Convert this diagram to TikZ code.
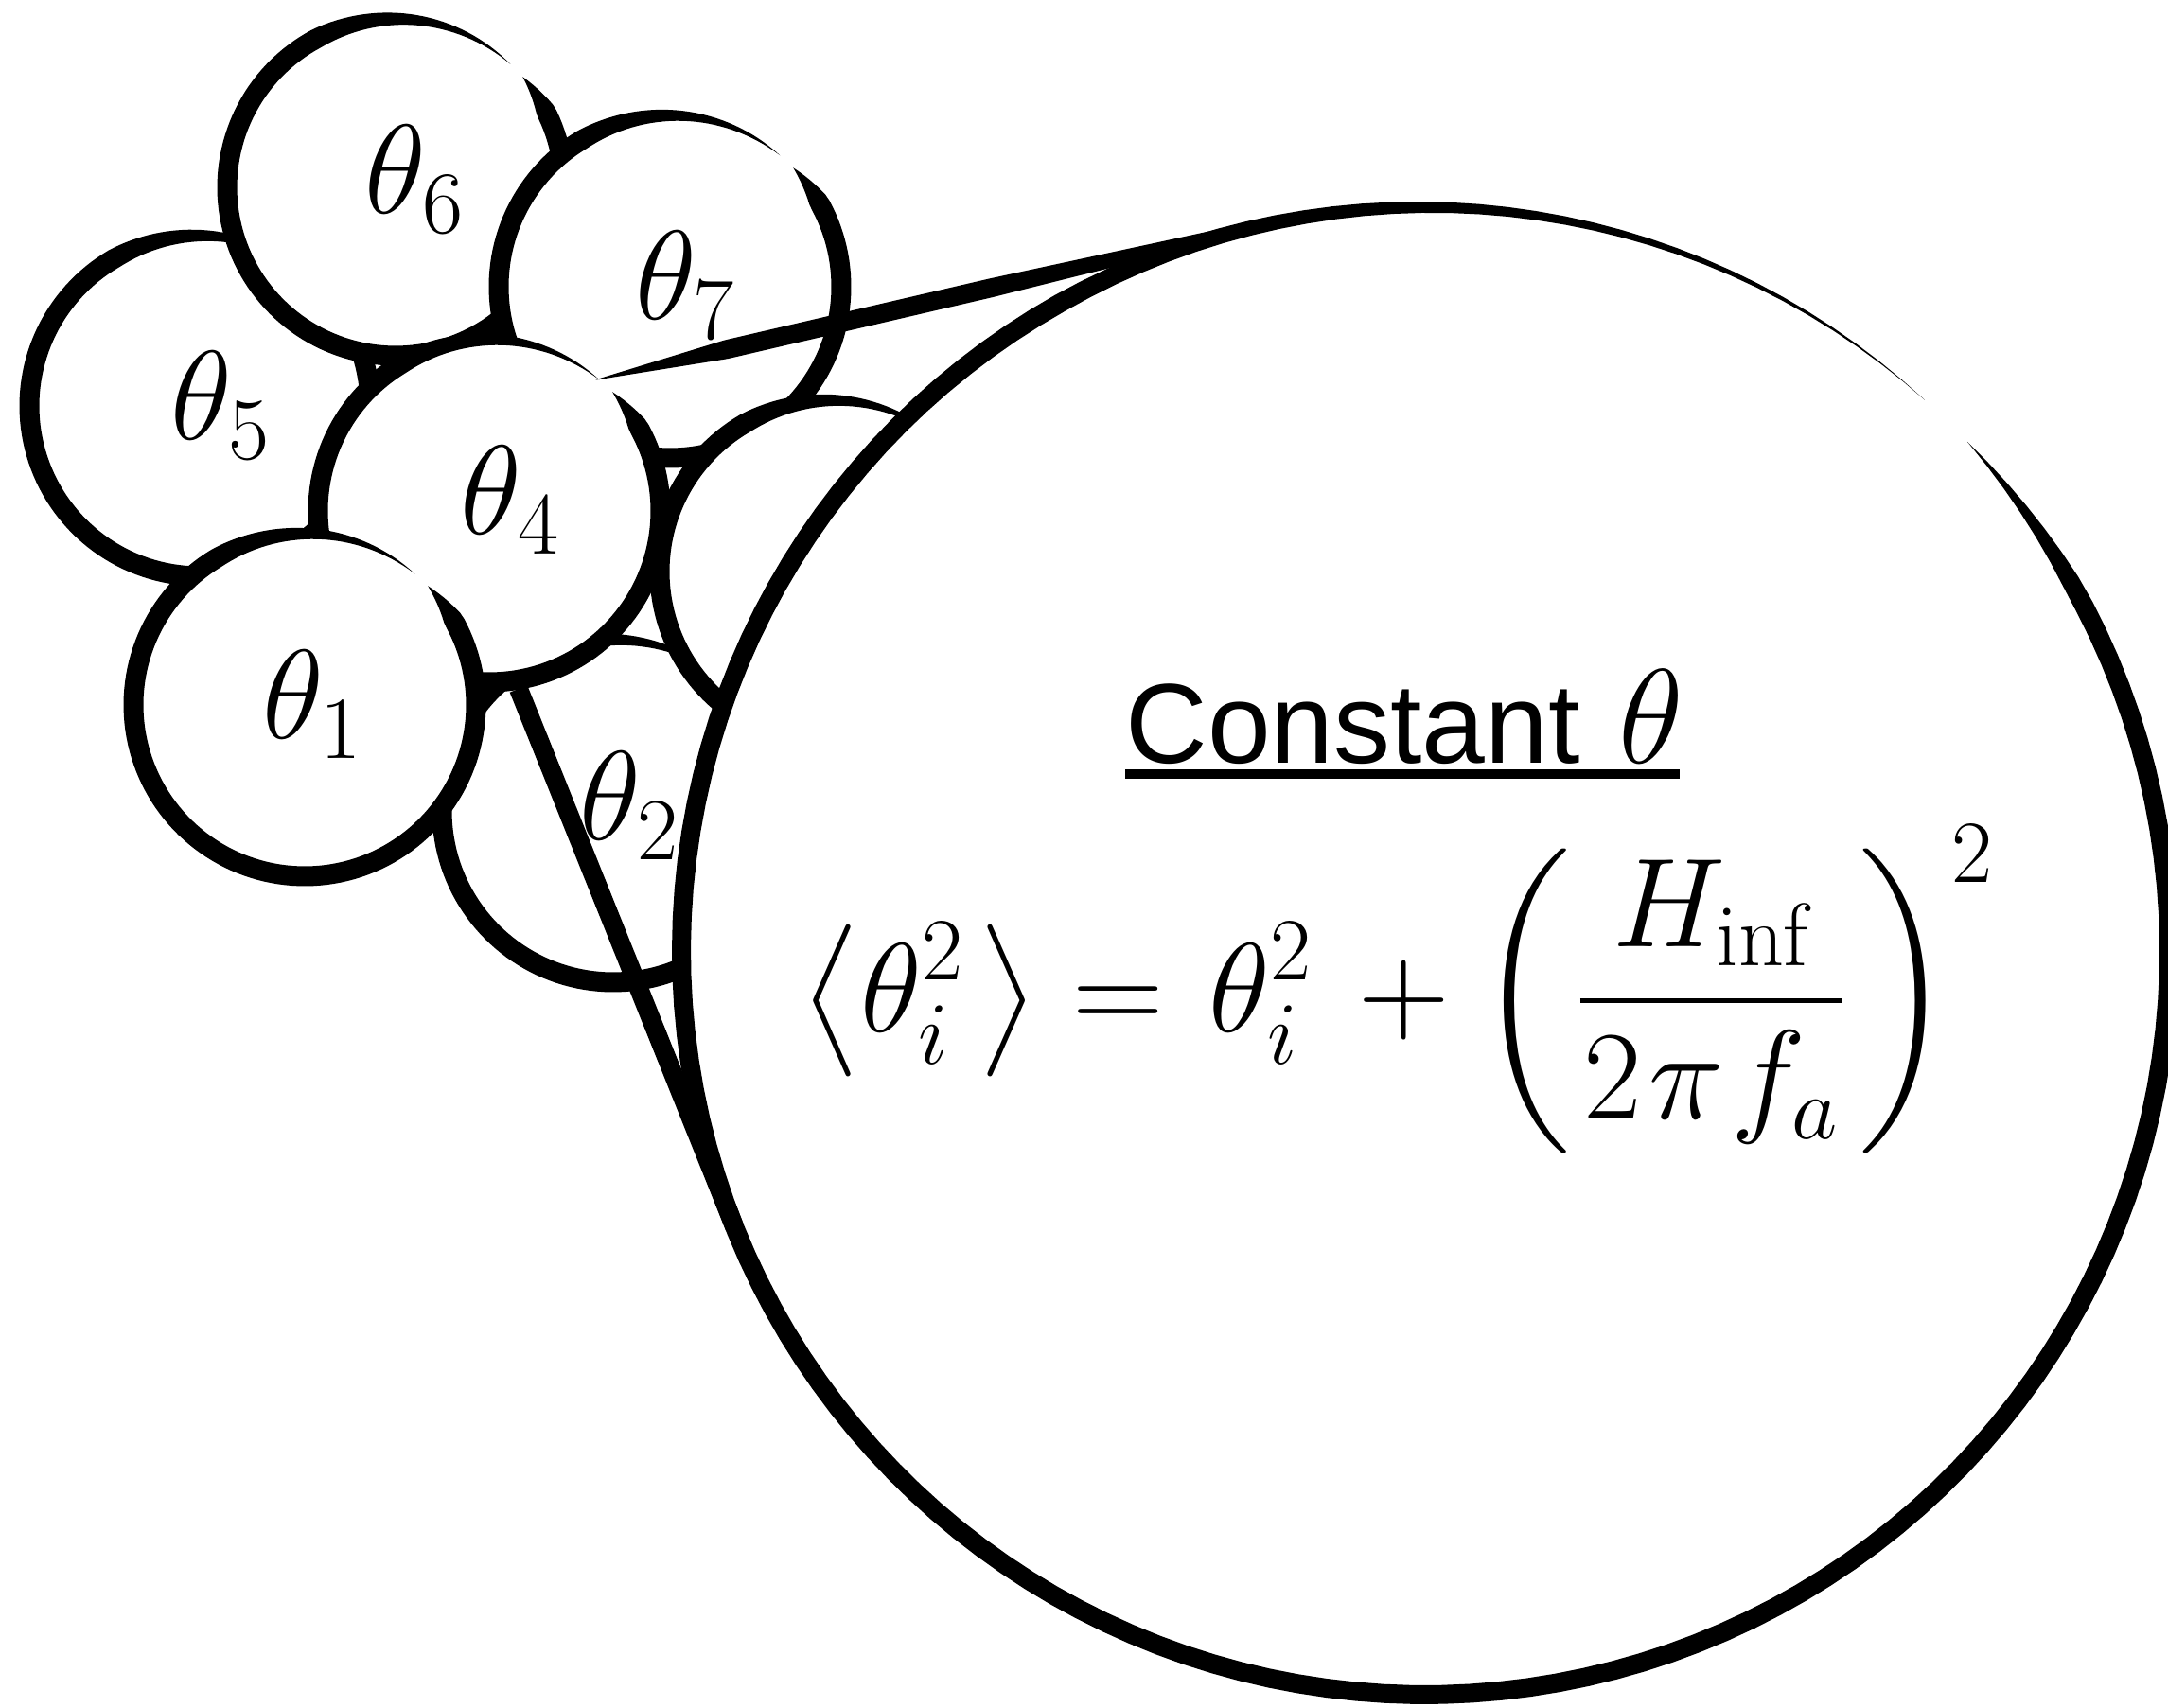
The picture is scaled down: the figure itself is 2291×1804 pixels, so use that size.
\RequirePackage{fix-cm}
\documentclass[tikz,border=0pt]{standalone}
\usepackage{fontspec}
\newfontfamily\arialfont{Liberation Sans}
\DeclareFontFamily{OMX}{cmex}{}
\DeclareFontShape{OMX}{cmex}{m}{n}{<-> cmex10}{}
\usetikzlibrary{calc}
% #1 cx, #2 cy, #3 radius, #4 max stroke width, #5 gap angle, #6 half gap
\newcommand\brushring[6]{%
  \fill[white] plot[domain=0:360,samples=120,variable=\a]
    ({#1+#3*cos(\a)},{#2+#3*sin(\a)}) -- cycle;
  \fill[black]
    plot[domain=0:1,samples=160,variable=\t]
      ({#1+(#3+0.5*bw(\t,#4))*cos(#5-#6-(360-2*#6)*\t)},{#2+(#3+0.5*bw(\t,#4))*sin(#5-#6-(360-2*#6)*\t)})
    -- plot[domain=1:0,samples=160,variable=\t]
      ({#1+(#3-0.5*bw(\t,#4))*cos(#5-#6-(360-2*#6)*\t)},{#2+(#3-0.5*bw(\t,#4))*sin(#5-#6-(360-2*#6)*\t)})
    -- cycle;
}
\begin{document}
\begin{tikzpicture}[x=0.5pt,y=0.5pt,
  declare function={bw(\t,\w)=\w*min(1,\t/0.04)*min(1,(1-\t)/0.2);},
  lbl/.style={anchor=base west,inner sep=0pt,font=\fontsize{67}{80}\selectfont},
  callout/.style={line width=10pt}]
\fill[white] (0,0) rectangle (2291,1804);
\useasboundingbox (0,0) rectangle (2291,1804);

% small circles (back to front)
\brushring{211}{1375}{180}{21}{46}{3}
\brushring{418}{1606}{178}{21}{44}{3}
\brushring{708}{1501}{181}{21}{47}{3}
\brushring{648}{947}{181}{21}{46}{3}
\brushring{878}{1200}{181}{21}{46}{3}
\brushring{517}{1264}{181}{21}{47}{3}
\brushring{322}{1059}{181}{21}{47}{3}
% big circle
\brushring{1506}{799}{786}{20}{45.5}{2.3}

% labels
\node[lbl] (l1) at (277,1023) {$\theta_1$};
\node[lbl] (l2) at (612,916) {$\theta_2$};
\node[lbl] (l4) at (486,1239) {$\theta_4$};
\node[lbl] (l5) at (180,1339) {$\theta_5$};
\node[lbl] (l6) at (385,1578) {$\theta_6$};
\node[lbl] (l7) at (671,1466) {$\theta_7$};

% title
\node[anchor=base west,inner sep=0pt] (title) at (1189,997)
  {\arialfont\fontsize{60}{72}\selectfont Constant\kern3.5pt{} \fontsize{71}{85}\selectfont$\theta$};
\draw[line width=5pt] ($(title.base west)+(0,-11)$) -- ($(title.base east)+(-4,-11)$);

% equation
\node[anchor=base west,inner sep=0pt,font=\fontsize{67}{80}\selectfont] (eq) at (846,713)
  {$\displaystyle \left\langle \theta_i^2\mkern2mu \right\rangle
   = \mkern1.4mu \theta_i^2 \mkern2.5mu + \left(\mkern1mu
   \frac{H_{\mathrm{inf}}}{\mkern0.5mu 2\mkern1mu\pi\mkern1mu f_a\mkern0.5mu}
   \mkern2mu\right)^{2}$};

% callout lines
\coordinate (p1) at (548,1076);
\coordinate (t1) at (776.5,506.6);
\draw[callout] (p1) -- (t1);
\coordinate (p2) at (627,1402);
\coordinate (t2) at (1328,1565);
\fill[rounded corners=2pt] (p2)
  -- (764.9,1444.3) -- (1045.3,1509.5) -- (1341.5,1573.3)
  -- (1343.7,1563.5) -- (1049.9,1490.1) -- (769.5,1424.9)
  -- cycle;
\end{tikzpicture}
\end{document}
